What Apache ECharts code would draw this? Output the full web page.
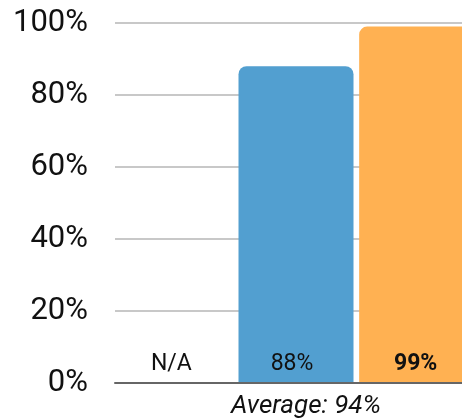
<!DOCTYPE html>
<html>
<head>
<meta charset="utf-8">
<script src="https://cdn.jsdelivr.net/npm/echarts@6/dist/echarts.min.js"></script>
<style>html,body{margin:0;padding:0;background:#fff;overflow:hidden}#c{width:462px;height:419px}</style>
</head>
<body>
<div id="c"></div>
<script>
var categories = ['A', 'B', 'C'];
var values = [null, 88, 99];
var barColors = ['#529FD0', '#529FD0', '#FFB152'];
var yTicks = [0, 20, 40, 60, 80, 100];
var averageLabel = 'Average: 94%';

var maxVal = Math.max.apply(null, values.filter(function (v) { return v != null; }));
var chart = echarts.init(document.getElementById('c'));
chart.setOption({
  animation: false,
  grid: { left: 115, right: -15, top: 23, bottom: 36, containLabel: false, outerBoundsMode: 'none' },
  xAxis: {
    type: 'category',
    data: categories,
    z: 10,
    name: averageLabel,
    nameLocation: 'middle',
    nameGap: 10,
    nameTextStyle: { fontFamily: 'Roboto', fontStyle: 'italic', fontSize: 26, color: '#111', padding: [0, 0, 0, 20], verticalAlign: 'top' },
    axisLine: { show: true, lineStyle: { color: '#666', width: 2 } },
    axisTick: { show: false },
    axisLabel: {
      inside: true,
      margin: 7,
      interval: 0,
      formatter: function (v, i) {
        var val = values[i];
        if (val == null) return '{n|N/A}';
        return val === maxVal ? '{b|' + val + '%}' : '{n|' + val + '%}';
      },
      rich: {
        n: { fontFamily: 'Roboto', fontSize: 23, color: '#111', padding: [0, 8, 0, 0] },
        b: { fontFamily: 'Roboto', fontSize: 23, fontWeight: 'bold', color: '#111', padding: [0, 2, 0, 0] }
      }
    }
  },
  yAxis: {
    type: 'value',
    min: yTicks[0],
    max: yTicks[yTicks.length - 1],
    interval: yTicks[1] - yTicks[0],
    axisLine: { show: false },
    axisTick: { show: false },
    axisLabel: { formatter: '{value}%', fontFamily: 'Roboto', fontSize: 31, color: '#111', margin: 27 },
    splitLine: { lineStyle: { color: '#c8c8c8', width: 2 } }
  },
  series: [{
    type: 'bar',
    barWidth: 115,
    data: values.map(function (v, i) {
      return { value: v, itemStyle: { color: barColors[i], borderRadius: [8, 8, 0, 0] } };
    })
  }]
});
</script>
</body>
</html>
